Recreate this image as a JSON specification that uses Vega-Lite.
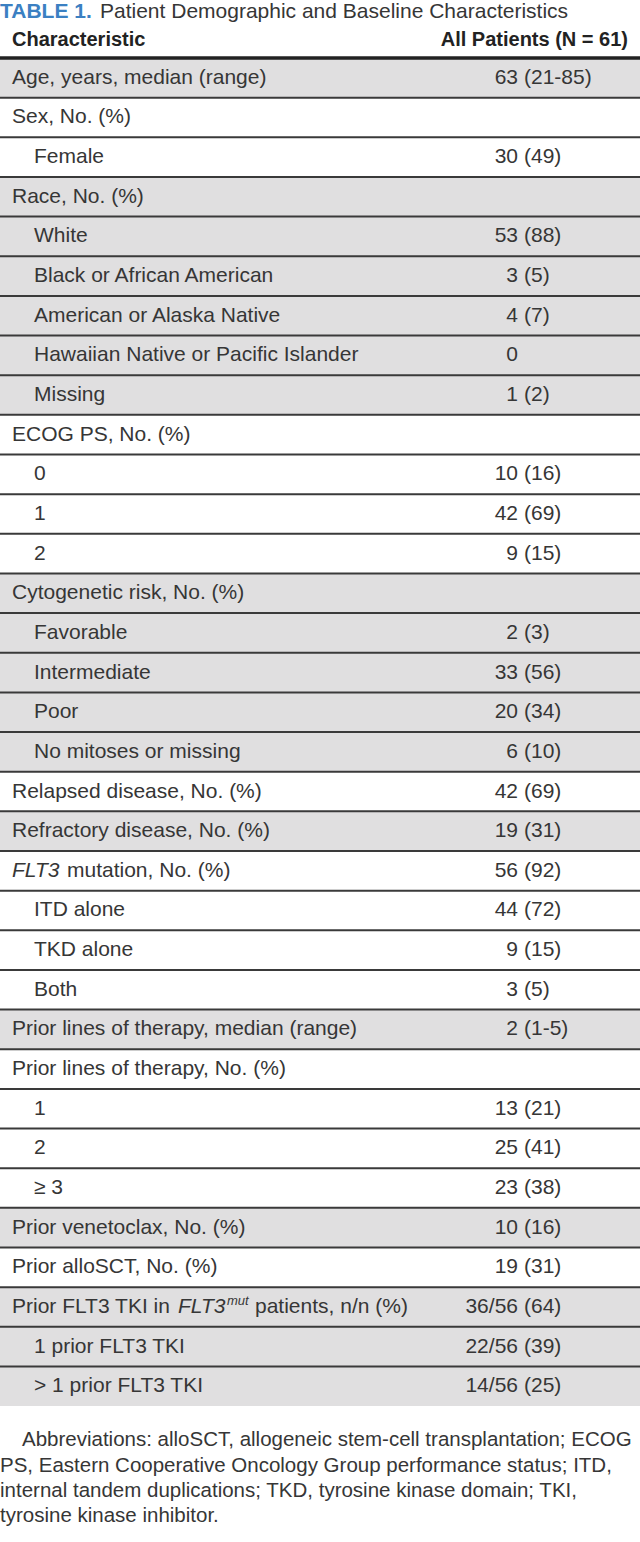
{
  "$schema": "https://vega.github.io/schema/vega-lite/v6.json",
  "width": 640,
  "height": 1542,
  "autosize": {"type": "none"},
  "padding": 0,
  "background": "white",
  "config": {"view": {"stroke": null}, "text": {"font": "Liberation Sans", "fill": "#363636", "fontSize": 21, "baseline": "middle"}},
  "datasets": {
    "rows": [
      {"row": 0, "label": "Age, years, median (range)", "n": "63", "pct": "(21-85)", "level": 0, "group": "Age"},
      {"row": 1, "label": "Sex, No. (%)", "n": "", "pct": "", "level": 0, "group": "Sex"},
      {"row": 2, "label": "Female", "n": "30", "pct": "(49)", "level": 1, "group": "Sex"},
      {"row": 3, "label": "Race, No. (%)", "n": "", "pct": "", "level": 0, "group": "Race"},
      {"row": 4, "label": "White", "n": "53", "pct": "(88)", "level": 1, "group": "Race"},
      {"row": 5, "label": "Black or African American", "n": "3", "pct": "(5)", "level": 1, "group": "Race"},
      {"row": 6, "label": "American or Alaska Native", "n": "4", "pct": "(7)", "level": 1, "group": "Race"},
      {"row": 7, "label": "Hawaiian Native or Pacific Islander", "n": "0", "pct": "", "level": 1, "group": "Race"},
      {"row": 8, "label": "Missing", "n": "1", "pct": "(2)", "level": 1, "group": "Race"},
      {"row": 9, "label": "ECOG PS, No. (%)", "n": "", "pct": "", "level": 0, "group": "ECOG"},
      {"row": 10, "label": "0", "n": "10", "pct": "(16)", "level": 1, "group": "ECOG"},
      {"row": 11, "label": "1", "n": "42", "pct": "(69)", "level": 1, "group": "ECOG"},
      {"row": 12, "label": "2", "n": "9", "pct": "(15)", "level": 1, "group": "ECOG"},
      {"row": 13, "label": "Cytogenetic risk, No. (%)", "n": "", "pct": "", "level": 0, "group": "Cytogenetic"},
      {"row": 14, "label": "Favorable", "n": "2", "pct": "(3)", "level": 1, "group": "Cytogenetic"},
      {"row": 15, "label": "Intermediate", "n": "33", "pct": "(56)", "level": 1, "group": "Cytogenetic"},
      {"row": 16, "label": "Poor", "n": "20", "pct": "(34)", "level": 1, "group": "Cytogenetic"},
      {"row": 17, "label": "No mitoses or missing", "n": "6", "pct": "(10)", "level": 1, "group": "Cytogenetic"},
      {"row": 18, "label": "Relapsed disease, No. (%)", "n": "42", "pct": "(69)", "level": 0, "group": "Relapsed"},
      {"row": 19, "label": "Refractory disease, No. (%)", "n": "19", "pct": "(31)", "level": 0, "group": "Refractory"},
      {"row": 20, "label": "FLT3 mutation, No. (%)", "n": "56", "pct": "(92)", "level": 0, "group": "FLT3"},
      {"row": 21, "label": "ITD alone", "n": "44", "pct": "(72)", "level": 1, "group": "FLT3"},
      {"row": 22, "label": "TKD alone", "n": "9", "pct": "(15)", "level": 1, "group": "FLT3"},
      {"row": 23, "label": "Both", "n": "3", "pct": "(5)", "level": 1, "group": "FLT3"},
      {"row": 24, "label": "Prior lines of therapy, median (range)", "n": "2", "pct": "(1-5)", "level": 0, "group": "LinesMedian"},
      {"row": 25, "label": "Prior lines of therapy, No. (%)", "n": "", "pct": "", "level": 0, "group": "LinesNo"},
      {"row": 26, "label": "1", "n": "13", "pct": "(21)", "level": 1, "group": "LinesNo"},
      {"row": 27, "label": "2", "n": "25", "pct": "(41)", "level": 1, "group": "LinesNo"},
      {"row": 28, "label": "≥ 3", "n": "23", "pct": "(38)", "level": 1, "group": "LinesNo"},
      {"row": 29, "label": "Prior venetoclax, No. (%)", "n": "10", "pct": "(16)", "level": 0, "group": "Venetoclax"},
      {"row": 30, "label": "Prior alloSCT, No. (%)", "n": "19", "pct": "(31)", "level": 0, "group": "AlloSCT"},
      {"row": 31, "label": "Prior FLT3 TKI in FLT3mut patients, n/n (%)", "n": "36/56", "pct": "(64)", "level": 0, "group": "PriorTKI"},
      {"row": 32, "label": "1 prior FLT3 TKI", "n": "22/56", "pct": "(39)", "level": 1, "group": "PriorTKI"},
      {"row": 33, "label": "> 1 prior FLT3 TKI", "n": "14/56", "pct": "(25)", "level": 1, "group": "PriorTKI"}
    ],
    "header": [
      {"row": -1, "tag": "TABLE 1.", "title": "Patient Demographic and Baseline Characteristics", "col1": "Characteristic", "col2": "All Patients (N = 61)"}
    ],
    "notes": [
      {"row": 34, "first": "Abbreviations: alloSCT, allogeneic stem-cell transplantation; ECOG", "rest": "PS, Eastern Cooperative Oncology Group performance status; ITD,\ninternal tandem duplications; TKD, tyrosine kinase domain; TKI,\ntyrosine kinase inhibitor."}
    ]
  },
  "encoding": {
    "y": {"field": "row", "type": "quantitative", "scale": {"domain": [-1.9622, 36.9281], "reverse": true, "nice": false, "zero": false}, "axis": null}
  },
  "layer": [
    {
      "data": {"name": "rows"},
      "mark": {"type": "rule", "strokeWidth": 39.65, "strokeCap": "butt"},
      "encoding": {
        "x": {"value": 0},
        "x2": {"value": 640},
        "stroke": {"field": "group", "type": "nominal", "legend": null,
          "scale": {"domain": ["Age", "Sex", "Race", "ECOG", "Cytogenetic", "Relapsed", "Refractory", "FLT3", "LinesMedian", "LinesNo", "Venetoclax", "AlloSCT", "PriorTKI"],
                    "range": ["#e0dfe0", "#ffffff", "#e0dfe0", "#ffffff", "#e0dfe0", "#ffffff", "#e0dfe0", "#ffffff", "#e0dfe0", "#ffffff", "#e0dfe0", "#ffffff", "#e0dfe0"]}}
      }
    },
    {
      "data": {"name": "rows"},
      "transform": [{"filter": "datum.row >= 1"}],
      "mark": {"type": "rule", "strokeWidth": 2, "stroke": "#3a3a3a", "yOffset": -19.825},
      "encoding": {"x": {"value": 0}, "x2": {"value": 640}}
    },
    {
      "data": {"name": "rows"},
      "transform": [{"filter": "datum.row == 0"}],
      "mark": {"type": "rule", "strokeWidth": 3.5, "stroke": "#222222", "yOffset": -19.825},
      "encoding": {"x": {"value": 0}, "x2": {"value": 640}}
    },
    {
      "data": {"name": "rows"},
      "transform": [{"filter": "datum.row != 20 && datum.row != 31"}],
      "mark": {"type": "text", "align": "left"},
      "encoding": {
        "x": {"field": "level", "type": "quantitative", "scale": {"domain": [0, 1], "range": [12, 34]}, "axis": null},
        "text": {"field": "label"}
      }
    },
    {
      "data": {"name": "rows"},
      "mark": {"type": "text", "align": "right"},
      "encoding": {"x": {"value": 518}, "text": {"field": "n"}}
    },
    {
      "data": {"name": "rows"},
      "mark": {"type": "text", "align": "left"},
      "encoding": {"x": {"value": 524}, "text": {"field": "pct"}}
    },
    {
      "data": {"name": "rows"},
      "transform": [{"filter": "datum.row == 20"}],
      "mark": {"type": "text", "align": "left", "fontStyle": "italic", "text": "FLT3"},
      "encoding": {"x": {"value": 12}}
    },
    {
      "data": {"name": "rows"},
      "transform": [{"filter": "datum.row == 20"}],
      "mark": {"type": "text", "align": "left", "text": "mutation, No. (%)"},
      "encoding": {"x": {"value": 67}}
    },
    {
      "data": {"name": "rows"},
      "transform": [{"filter": "datum.row == 31"}],
      "mark": {"type": "text", "align": "left", "text": "Prior FLT3 TKI in"},
      "encoding": {"x": {"value": 12}}
    },
    {
      "data": {"name": "rows"},
      "transform": [{"filter": "datum.row == 31"}],
      "mark": {"type": "text", "align": "left", "fontStyle": "italic", "text": "FLT3"},
      "encoding": {"x": {"value": 178}}
    },
    {
      "data": {"name": "rows"},
      "transform": [{"filter": "datum.row == 31"}],
      "mark": {"type": "text", "align": "left", "fontStyle": "italic", "fontSize": 13, "dy": -6, "text": "mut"},
      "encoding": {"x": {"value": 227}}
    },
    {
      "data": {"name": "rows"},
      "transform": [{"filter": "datum.row == 31"}],
      "mark": {"type": "text", "align": "left", "text": "patients, n/n (%)"},
      "encoding": {"x": {"value": 255}}
    },
    {
      "data": {"name": "header"},
      "mark": {"type": "text", "align": "left", "fontWeight": "bold", "fontSize": 21, "fill": "#3b80c2", "dy": -26},
      "encoding": {"x": {"value": 0}, "text": {"field": "tag"}}
    },
    {
      "data": {"name": "header"},
      "mark": {"type": "text", "align": "left", "fontSize": 21, "dy": -26},
      "encoding": {"x": {"value": 100}, "text": {"field": "title"}}
    },
    {
      "data": {"name": "header"},
      "mark": {"type": "text", "align": "left", "fontWeight": "bold", "fontSize": 20, "fill": "#222222", "dy": 2},
      "encoding": {"x": {"value": 12}, "text": {"field": "col1"}}
    },
    {
      "data": {"name": "header"},
      "mark": {"type": "text", "align": "right", "fontWeight": "bold", "fontSize": 20, "fill": "#222222", "dy": 2},
      "encoding": {"x": {"value": 628}, "text": {"field": "col2"}}
    },
    {
      "data": {"name": "notes"},
      "mark": {"type": "text", "align": "left", "fontSize": 20.5, "dy": 14},
      "encoding": {"x": {"value": 22}, "text": {"field": "first"}}
    },
    {
      "data": {"name": "notes"},
      "mark": {"type": "text", "align": "left", "fontSize": 20.5, "baseline": "alphabetic", "lineBreak": "\n", "lineHeight": 25, "dy": 46},
      "encoding": {"x": {"value": 0}, "text": {"field": "rest"}}
    }
  ]
}
